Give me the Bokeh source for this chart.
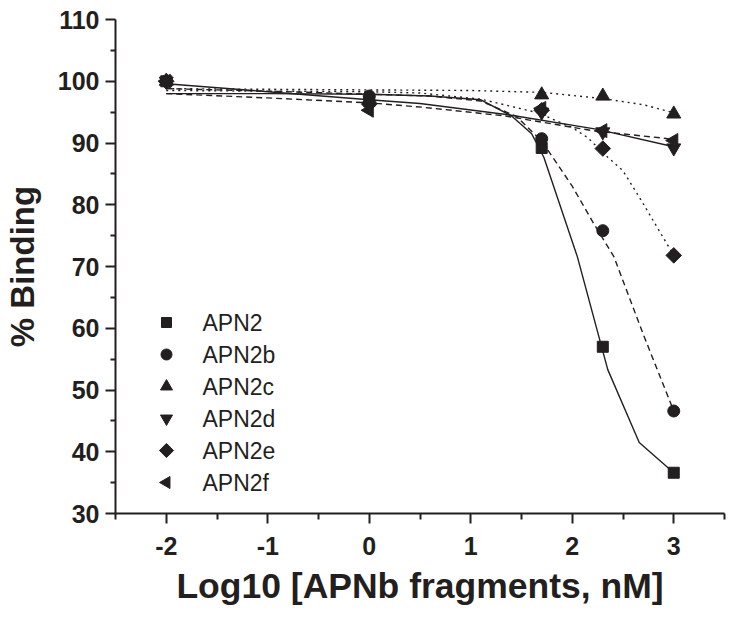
import math
from bokeh.plotting import figure
from bokeh.models import Range1d, FixedTicker
from bokeh.core.properties import value
from bokeh.embed import file_html
from bokeh.resources import INLINE

# ---- data ----
x_pts = [-2, 0, 1.699, 2.301, 3]          # log10 concentration
apn2  = [100, 96.8, 89.2, 57.0, 36.6]
apn2b = [100, 97.6, 90.7, 75.8, 46.6]
apn2c = [100, 97.0, 97.8, 97.6, 94.7]
apn2d = [100, 96.0, 95.0, 91.8, 89.2]
apn2e = [100, 96.3, 95.3, 89.1, 71.8]
apn2f = [100, 95.3, 95.6, 92.0, 90.4]

# fitted curves (as drawn)
fit_apn2_x  = [-2, -1, 0, 0.6, 1.1, 1.4, 1.6, 1.72, 2.05, 2.35, 2.66, 3]
fit_apn2_y  = [98.0, 98.0, 97.9, 97.6, 97.0, 94.4, 91.5, 87.7, 71.6, 53.3, 41.5, 36.6]
fit_apn2b_x = [-2, -1, 0, 0.6, 1.1, 1.45, 1.7, 2.0, 2.21, 2.41, 2.7, 3]
fit_apn2b_y = [98.8, 98.4, 97.9, 97.6, 96.8, 94.3, 90.3, 83.0, 77.0, 71.6, 59.0, 46.6]
fit_apn2c_x = [-2, -1, 0, 1, 1.7, 2.3, 2.7, 3]
fit_apn2c_y = [98.8, 98.7, 98.6, 98.5, 98.2, 97.2, 96.2, 94.9]
fit_apn2d_x = [-2, -1, 0, 0.5, 1.4, 2.25, 3]
fit_apn2d_y = [99.6, 98.3, 97.0, 96.4, 94.5, 92.2, 89.4]
fit_apn2e_x = [-2, -1, 0, 0.5, 1.1, 1.66, 2.0, 2.15, 2.35, 2.5, 2.68, 3]
fit_apn2e_y = [98.5, 98.4, 98.3, 98.1, 97.1, 94.9, 92.5, 90.9, 87.7, 85.5, 80.7, 71.8]
fit_apn2f_x = [-2, -1, 0, 0.52, 1.33, 2.2, 3]
fit_apn2f_y = [98.0, 97.3, 96.5, 95.8, 94.4, 92.0, 90.6]

labels = ["APN2", "APN2b", "APN2c", "APN2d", "APN2e", "APN2f"]
x_ticks = [-2, -1, 0, 1, 2, 3]
x_minor = [-2.5, -1.5, -0.5, 0.5, 1.5, 2.5, 3.5]
y_ticks = [30, 40, 50, 60, 70, 80, 90, 100, 110]
y_minor = [35, 45, 55, 65, 75, 85, 95, 105]

INK = "#231f20"
FONT = "Liberation Sans"

FW, FH = 609, 494
p = figure(frame_width=FW, frame_height=FH,
           min_border_left=105, min_border_right=7, min_border_top=19, min_border_bottom=97,
           x_range=Range1d(-2.5, 3.5), y_range=Range1d(30, 110),
           output_backend="svg", toolbar_location=None)
p.outline_line_color = None
p.xgrid.visible = False
p.ygrid.visible = False
p.background_fill_color = "white"
p.border_fill_color = "white"

# fitted lines
line_specs = [
    (fit_apn2_x, fit_apn2_y, "solid"),
    (fit_apn2b_x, fit_apn2b_y, "6 4"),
    (fit_apn2c_x, fit_apn2c_y, "2 4"),
    (fit_apn2d_x, fit_apn2d_y, "solid"),
    (fit_apn2e_x, fit_apn2e_y, "2 4"),
    (fit_apn2f_x, fit_apn2f_y, "6 4"),
]
for fx, fy, dash in line_specs:
    p.line(fx, fy, line_color=INK, line_width=1.4, line_dash=dash)

# markers
series = [apn2, apn2b, apn2c, apn2d, apn2e, apn2f]
markers = [("square", 11, 0), ("circle", 12, 0), ("triangle", 14, 0),
           ("inverted_triangle", 14, 0), ("square", 11, math.pi / 4),
           ("triangle", 14, math.pi / 2)]
for ys, (mk, sz, ang) in zip(series, markers):
    p.scatter(x_pts, ys, marker=mk, size=sz, angle=ang,
              fill_color=INK, line_color=INK)

# legend (drawn in frame pixel coordinates)
p.extra_x_ranges["px"] = Range1d(0, FW)
p.extra_y_ranges["px"] = Range1d(0, FH)
leg_x = 51
leg_text_x = 87
leg_rows = [191, 159, 127, 95, 63, 31]
leg_markers = [("square", 10, 0), ("circle", 11, 0), ("triangle", 12, 0),
               ("inverted_triangle", 12, 0), ("square", 10, math.pi / 4),
               ("triangle", 12, math.pi / 2)]
for lab, ly, (mk, sz, ang) in zip(labels, leg_rows, leg_markers):
    p.scatter([leg_x], [ly], marker=mk, size=sz, angle=ang,
              fill_color=INK, line_color=INK, x_range_name="px", y_range_name="px")
p.text(x=[leg_text_x] * len(labels), y=leg_rows, text=labels,
       text_font=value(FONT), text_font_size="23px", text_color=INK,
       text_baseline="middle", text_align="left",
       x_range_name="px", y_range_name="px")

# axes
for ax in (p.xaxis[0], p.yaxis[0]):
    ax.axis_line_width = 2
    ax.axis_line_color = INK
    ax.major_tick_line_width = 2
    ax.minor_tick_line_width = 2
    ax.major_tick_line_color = INK
    ax.minor_tick_line_color = INK
    ax.major_tick_in = 0
    ax.minor_tick_in = 0
    ax.major_tick_out = 10
    ax.minor_tick_out = 6
    ax.major_label_text_font = FONT
    ax.major_label_text_font_style = "bold"
    ax.major_label_text_font_size = "25px"
    ax.major_label_text_color = INK
    ax.axis_label_text_font = FONT
    ax.axis_label_text_font_style = "bold"
    ax.axis_label_text_color = INK

p.xaxis.ticker = FixedTicker(ticks=x_ticks, minor_ticks=x_minor)
p.yaxis.ticker = FixedTicker(ticks=y_ticks, minor_ticks=y_minor)
p.xaxis.major_label_overrides = {-2: "-2", -1: "-1"}
p.yaxis.minor_tick_out = 5
p.xaxis.major_label_standoff = 13
p.yaxis.major_label_standoff = 6
p.xaxis.axis_label = "Log10 [APNb fragments, nM]"
p.yaxis.axis_label = "% Binding"
p.xaxis.axis_label_text_font_size = "35.5px"
p.yaxis.axis_label_text_font_size = "33px"
p.xaxis.axis_label_standoff = 8
p.yaxis.axis_label_standoff = 14

open("out.html", "w").write(file_html(p, INLINE))
